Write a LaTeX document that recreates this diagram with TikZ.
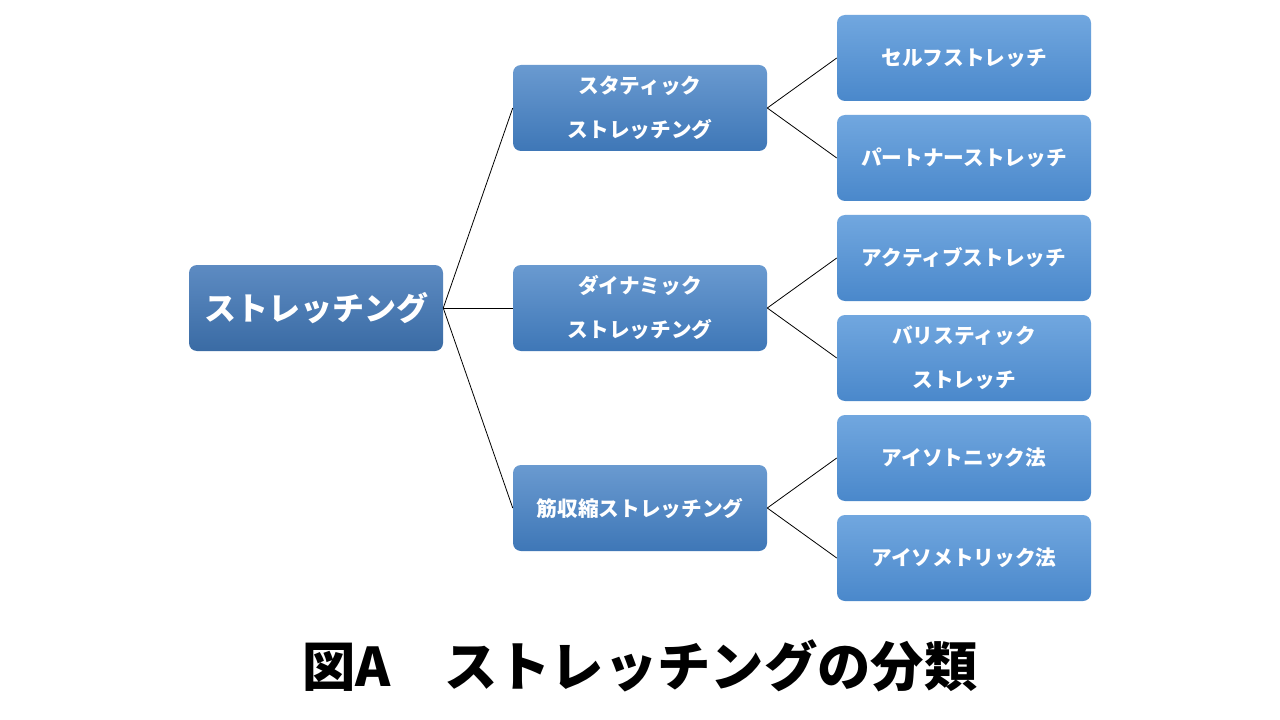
\documentclass[tikz,border=0pt]{standalone}
\usepackage{fontspec}
\setmainfont{Noto Sans CJK JP}
\newfontfamily\jp{Noto Sans CJK JP}
\definecolor{roottop}{HTML}{5D8BC2}
\definecolor{rootbot}{HTML}{3A6BA4}
\definecolor{midtop}{HTML}{6A9AD0}
\definecolor{midbot}{HTML}{3E77B7}
\definecolor{leaftop}{HTML}{71A7DF}
\definecolor{leafbot}{HTML}{4A88CB}
\tikzset{
  box/.style={shade, rounded corners=6pt, minimum width=190.5pt, minimum height=64.5pt,
    inner sep=0pt, align=center, text=white, font=\jp\bfseries\fontsize{15.5}{33}\selectfont},
  rootbox/.style={box, top color=roottop, bottom color=rootbot, font=\jp\bfseries\fontsize{24}{30}\selectfont},
  midbox/.style={box, top color=midtop, bottom color=midbot},
  leafbox/.style={box, top color=leaftop, bottom color=leafbot},
  link/.style={draw=black, line width=0.6pt}
}
\begin{document}
\begin{tikzpicture}[x=0.75pt, y=-0.75pt]
\useasboundingbox (0,0) rectangle (1280,720);
\fill[white] (0,0) rectangle (1280,720);
\node[rootbox] (root) at (316,308) {ストレッチング};
\node[midbox] (m1) at (640,108) {スタティック\\ストレッチング};
\node[midbox] (m2) at (640,308) {ダイナミック\\ストレッチング};
\node[midbox] (m3) at (640,508) {筋収縮ストレッチング};
\node[leafbox] (l1) at (964,58) {セルフストレッチ};
\node[leafbox] (l2) at (964,158) {パートナーストレッチ};
\node[leafbox] (l3) at (964,258) {アクティブストレッチ};
\node[leafbox] (l4) at (964,358) {バリスティック\\ストレッチ};
\node[leafbox] (l5) at (964,458) {アイソトニック法};
\node[leafbox] (l6) at (964,558) {アイソメトリック法};
\draw[link] (root.east) -- (m1.west);
\draw[link] (root.east) -- (m2.west);
\draw[link] (root.east) -- (m3.west);
\draw[link] (m1.east) -- (l1.west);
\draw[link] (m1.east) -- (l2.west);
\draw[link] (m2.east) -- (l3.west);
\draw[link] (m2.east) -- (l4.west);
\draw[link] (m3.east) -- (l5.west);
\draw[link] (m3.east) -- (l6.west);
\node[font=\jp\bfseries\fontsize{40}{48}\selectfont, text=black] (title) at (640,666) {図A　ストレッチングの分類};
\end{tikzpicture}
\end{document}
